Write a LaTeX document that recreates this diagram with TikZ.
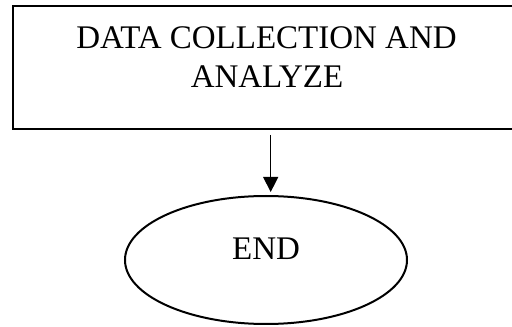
\documentclass[tikz,border=0pt]{standalone}
\usepackage{fontspec}
\setmainfont{Liberation Serif}
\usetikzlibrary{shapes.geometric,arrows.meta}
\begin{document}
\begin{tikzpicture}[x=1pt,y=1pt,
  boxstyle/.style={draw,line width=2.2pt,rectangle,inner sep=0pt},
  ovalstyle/.style={draw,line width=2pt,ellipse,inner sep=0pt,minimum width=282pt,minimum height=128pt},
  txt/.style={font=\fontsize{33}{39.5}\selectfont,inner sep=0pt,anchor=base},
  arr/.style={line width=1.2pt,shorten >=3pt,-{Triangle[length=15pt,width=15pt]}}]
\useasboundingbox (0,0) rectangle (512,327);
\node[boxstyle,minimum width=517pt,minimum height=123pt] (box) at (271.5,259.5) {};
\node[txt] (line1) at (266.5,278.7) {DATA COLLECTION AND};
\node[txt] (line2) at (267,239.3) {ANALYZE};
\node[ovalstyle] (endnode) at (266,67) {};
\node[txt] (endtext) at (266,67.7) {END};
\coordinate (arrstart) at (270.7,192);
\draw[arr] (arrstart) -- (arrstart |- endnode.north);
\end{tikzpicture}
\end{document}
